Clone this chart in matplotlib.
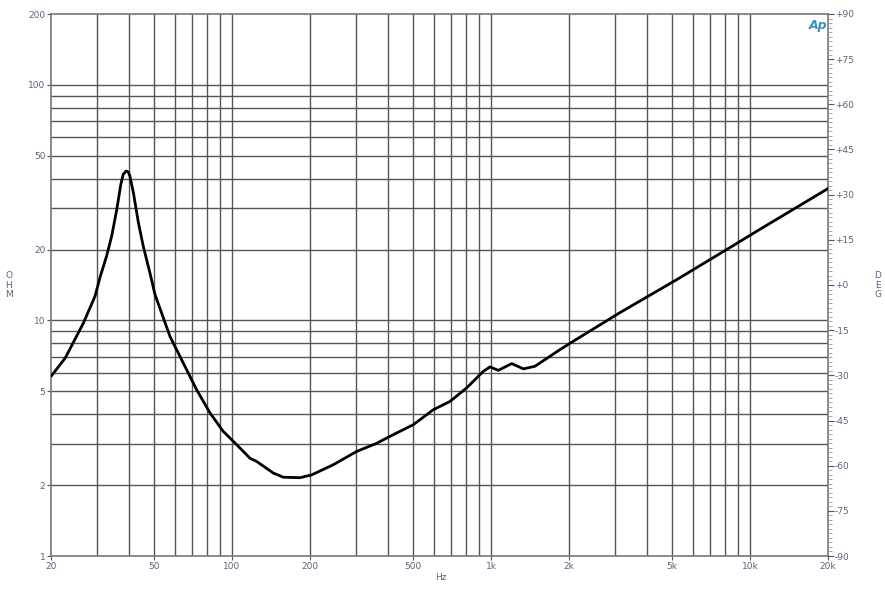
import numpy as np
import matplotlib.pyplot as plt
from matplotlib.ticker import FixedLocator, NullFormatter, MultipleLocator

# インピーダンス特性 (周波数 Hz, インピーダンス Ohm) - 画像から読み取り
freq = [20.1, 22.7, 26.7, 29.6, 30.9, 32.8, 34.3, 35.9, 37.2, 38.0, 39.0,
        39.7, 40.3, 41.6, 43.5, 45.4, 48.2, 50.4, 57.6, 64.8, 73.0, 82.2,
        92.5, 102.6, 117.3, 124.5, 144.3, 157.7, 183, 203, 246, 303, 362, 407,
        501, 599, 694, 805, 933, 991, 1067, 1202, 1333, 1478, 1846, 2078,
        3148, 5210, 8369, 10600, 20000]
ohm = [5.83, 6.93, 9.77, 12.7, 15.2, 18.8, 22.8, 29.6, 37.8, 41.7, 43.1,
       42.7, 41.2, 34.9, 26.0, 20.7, 15.9, 12.9, 8.55, 6.6, 5.08, 4.05,
       3.38, 3.02, 2.60, 2.52, 2.25, 2.16, 2.15, 2.21, 2.44, 2.78, 3.01, 3.22,
       3.61, 4.18, 4.53, 5.17, 6.08, 6.35, 6.14, 6.56, 6.23, 6.39, 7.52, 8.16,
       10.8, 14.9, 20.4, 23.9, 36.3]

x_ticks = [20, 50, 100, 200, 500, 1000, 2000, 5000, 10000, 20000]
x_labels = ['20', '50', '100', '200', '500', '1k', '2k', '5k', '10k', '20k']
y_ticks = [1, 2, 5, 10, 20, 50, 100, 200]
y_labels = ['1', '2', '5', '10', '20', '50', '100', '200']
deg_ticks = list(range(-90, 91, 15))
deg_labels = ['%+d' % d if d != 0 else '+0' for d in deg_ticks]

x_grid = [30, 40, 50, 60, 70, 80, 90, 100, 200, 300, 400, 500, 600, 700, 800,
          900, 1000, 2000, 3000, 4000, 5000, 6000, 7000, 8000, 9000, 10000]
y_grid = [2, 3, 4, 5, 6, 7, 8, 9, 10, 20, 30, 40, 50, 60, 70, 80, 90, 100]

txt = '#6a5a7c'
gc = '#555555'

fig = plt.figure(figsize=(8.85, 6), dpi=100)
ax = fig.add_axes([51 / 885, 44 / 600, 777 / 885, 542 / 600])
ax.set_xscale('log')
ax.set_yscale('log')
ax.set_xlim(20, 20000)
ax.set_ylim(1, 200)

for g in x_grid:
    ax.axvline(g, color=gc, lw=1.0, zorder=1)
for g in y_grid:
    ax.axhline(g, color=gc, lw=1.0, zorder=1)

ax.plot(freq, ohm, color='black', lw=2.0, zorder=3, solid_joinstyle='round')

ax.xaxis.set_major_locator(FixedLocator(x_ticks))
ax.set_xticklabels(x_labels)
ax.xaxis.set_minor_formatter(NullFormatter())
ax.xaxis.set_minor_locator(FixedLocator([]))
ax.yaxis.set_major_locator(FixedLocator(y_ticks))
ax.set_yticklabels(y_labels)
ax.yaxis.set_minor_formatter(NullFormatter())
ax.yaxis.set_minor_locator(FixedLocator([]))
ax.tick_params(axis='both', colors=gc, labelcolor=txt, labelsize=6.5,
               length=3, width=0.8, pad=1)

for s in ax.spines.values():
    s.set_color('#777777')
    s.set_linewidth(1.2)

ax2 = ax.twinx()
ax2.set_ylim(-90, 90)
ax2.set_yticks(deg_ticks)
ax2.set_yticklabels(deg_labels)
ax2.yaxis.set_minor_locator(MultipleLocator(1.5))
ax2.tick_params(axis='y', which='major', colors=gc, labelcolor=txt,
                labelsize=6.5, length=4, width=0.8, pad=1)
ax2.tick_params(axis='y', which='minor', colors='#999999', length=3, width=0.6)
for s in ax2.spines.values():
    s.set_visible(False)

fig.text(441 / 885, 1 - 578 / 600, 'Hz', color=txt, fontsize=6.5,
         ha='center', va='center')
fig.text(9 / 885, 1 - 285 / 600, 'O\nH\nM', color=txt, fontsize=6.5,
         ha='center', va='center', linespacing=1.1)
fig.text(878 / 885, 1 - 285 / 600, 'D\nE\nG', color=txt, fontsize=6.5,
         ha='center', va='center', linespacing=1.1)
fig.text(818 / 885, 1 - 26 / 600, 'Ap', color='#3a8fc0', fontsize=9,
         fontstyle='italic', fontweight='bold', ha='center', va='center')

fig.savefig('out.png', dpi=100, facecolor='white')
